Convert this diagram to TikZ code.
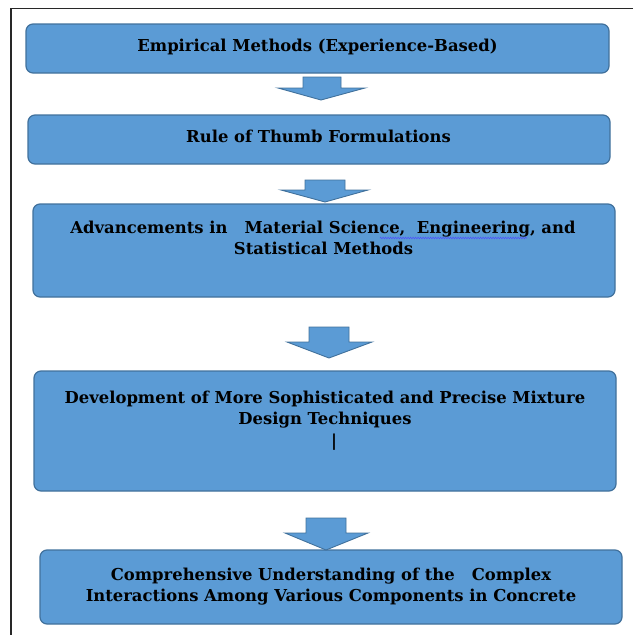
\documentclass[tikz,border=0pt]{standalone}
\usepackage{fontspec}
\setmainfont{DejaVu Serif}
\usetikzlibrary{decorations.pathmorphing}
\definecolor{boxfill}{RGB}{91,155,213}
\definecolor{boxline}{RGB}{65,113,156}
\definecolor{framec}{RGB}{40,40,40}
\tikzset{
  box/.style={draw=boxline, fill=boxfill, line width=1.2pt, rounded corners=7pt, inner sep=0pt},
  lbl/.style={font=\fontsize{16.4}{21}\selectfont\bfseries, align=center, inner sep=0pt, anchor=base},
  barrow/.style={draw=boxline, fill=boxfill, line width=0.9pt, line join=miter},
}
\begin{document}
\begin{tikzpicture}[x=1pt,y=-1pt]
\useasboundingbox (0,0) rectangle (633,635);
\draw[framec, line width=1.3pt] (633,8.5) -- (11,8.5) -- (11,635);
% boxes
\node[box, minimum width=583pt, minimum height=49pt] (b1) at (317.5,48.5) {};
\node[box, minimum width=582pt, minimum height=49pt] (b2) at (319,139.5) {};
\node[box, minimum width=582pt, minimum height=93pt] (b3) at (324,250.5) {};
\node[box, minimum width=582pt, minimum height=120pt] (b4) at (325,431) {};
\node[box, minimum width=582pt, minimum height=74pt] (b5) at (331,587) {};
% texts
\node[lbl] (t1) at (317.5,51.5) {Empirical Methods (Experience-Based)};
\node[lbl] (t2) at (318.5,142.5) {Rule of Thumb Formulations};
\node[lbl] (t3a) at (323,233.5) {Advancements in\ \ \ Material Science,\ \ Engineering, and};
\node[lbl] (t3b) at (323.5,254.5) {Statistical Methods};
\node[lbl] (t4a) at (325,403.5) {Development of More Sophisticated and Precise Mixture};
\node[lbl] (t4b) at (325,424.5) {Design Techniques};
\node[lbl] (t4c) at (334,446) {|};
\node[lbl] (t5a) at (331,580) {Comprehensive Understanding of the\ \ \ Complex};
\node[lbl] (t5b) at (331,601) {Interactions Among Various Components in Concrete};
% spell-check underline
\draw[blue!70!white, line width=0.6pt, decorate, decoration={zigzag, amplitude=0.7pt, segment length=2.5pt}] (380,238) -- (527,238);
% block arrows
\draw[barrow] (303,77) -- (341,77) -- (341,88) -- (365,88) -- (321,100) -- (278,88) -- (303,88) -- cycle;
\draw[barrow] (305,180) -- (345,180) -- (345,190) -- (368,190) -- (325,202) -- (281,190) -- (305,190) -- cycle;
\draw[barrow] (309,327) -- (349,327) -- (349,342) -- (372,342) -- (329,358) -- (287,342) -- (309,342) -- cycle;
\draw[barrow] (306,518) -- (346,518) -- (346,533) -- (368,533) -- (326,550) -- (285,533) -- (306,533) -- cycle;
\end{tikzpicture}
\end{document}
